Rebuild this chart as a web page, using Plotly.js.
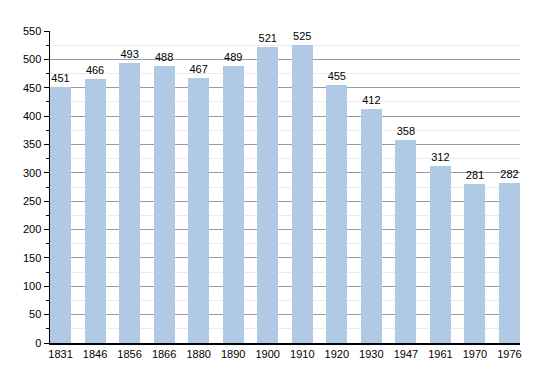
<!DOCTYPE html>
<html>
<head>
<meta charset="utf-8">
<script src="https://cdn.plot.ly/plotly-3.0.1.min.js"></script>
<style>html,body{margin:0;padding:0;background:#fff;}#chart{width:550px;height:373px;}</style>
</head>
<body>
<div id="chart"></div>
<script>
const years = ["1831","1846","1856","1866","1880","1890","1900","1910","1920","1930","1947","1961","1970","1976"];
const population = [451,466,493,488,467,489,521,525,455,412,358,312,281,282];

const idx = years.map((_, i) => i);
const bw = 0.609;

Plotly.newPlot('chart', [{
  type: 'bar',
  x: idx,
  y: population,
  width: bw,
  text: population.map(String),
  textposition: 'outside',
  textfont: {family: 'Liberation Sans, Arial, sans-serif', size: 11, color: '#000'},
  cliponaxis: false,
  marker: {color: 'rgb(176,201,229)', line: {width: 0}},
  hoverinfo: 'none'
}], {
  width: 550, height: 373,
  margin: {l: 50, r: 30, t: 31, b: 30},
  paper_bgcolor: '#fff', plot_bgcolor: '#fff',
  showlegend: false,
  font: {family: 'Liberation Sans, Arial, sans-serif', size: 11, color: '#000'},
  xaxis: {
    range: [-bw/2, 13 + bw/2],
    tickmode: 'array', tickvals: idx, ticktext: years,
    showgrid: false, zeroline: false,
    showline: true, linecolor: '#000', linewidth: 1.5,
    ticks: '', fixedrange: true
  },
  yaxis: {
    range: [0, 550], dtick: 50, tick0: 0,
    showgrid: true, gridcolor: '#9c9c9c', gridwidth: 1,
    zeroline: false,
    showline: true, linecolor: '#000', linewidth: 1.5,
    ticks: 'outside', ticklen: 5, tickcolor: '#000', tickwidth: 1,
    minor: {dtick: 25, showgrid: true, gridcolor: '#ebebeb', gridwidth: 1, ticks: 'outside', ticklen: 3, tickcolor: '#000'},
    fixedrange: true
  },
  bargap: 0
}, {staticPlot: true});
</script>
</body>
</html>
